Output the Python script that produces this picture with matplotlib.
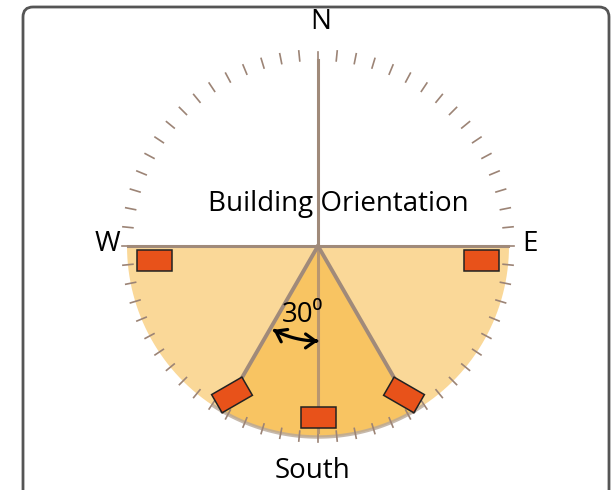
import numpy as np
import matplotlib
matplotlib.use("Agg")
import matplotlib.pyplot as plt
from matplotlib.patches import Polygon, FancyBboxPatch, FancyArrowPatch
from matplotlib.path import Path

plt.rcParams["font.family"] = ["Open Sans", "DejaVu Sans"]

# ---------- data ----------
compass_labels = ["N", "W", "E"]
compass_bearings = [0, 270, 90]
tick_bearings = list(np.arange(64) * 360 / 64)
half_fill = [90, 270]            # lower half (E -> S -> W)
wedge_half_angle = 30            # +/- around south
building_bearings = [180, 150, 210, 95, 265]
building_radius = [171, 172, 172, 164, 164]
building_rotation = [0, 30, -30, 0, 0]
angle_label = "30⁰"
title_text = "Building Orientation"
bottom_text = "South"

# ---------- geometry ----------
CX, CY, R = 318, 246, 191
LINE = "#a08a7a"
LIGHT = "#fad898"
DARK = "#f8c462"
RED = "#e8521a"


def pt(b, r):
    t = np.radians(b)
    return CX + r * np.sin(t), CY - r * np.cos(t)


def arc(b0, b1, r, n=100):
    bs = np.linspace(b0, b1, n)
    return np.array([pt(b, r) for b in bs])


fig = plt.figure(figsize=(6.12, 4.9), dpi=100)
ax = fig.add_axes([0, 0, 1, 1])
ax.set_xlim(0, 612)
ax.set_ylim(490, 0)
ax.axis("off")

# frame
ax.add_patch(FancyBboxPatch((23, 7), 586, 500, boxstyle="round,pad=0,rounding_size=10",
                            fc="white", ec="#555555", lw=2, zorder=0))

# half disc
pts = np.vstack([[pt(0, 0)], arc(half_fill[0], half_fill[1], R)])
ax.add_patch(Polygon(pts, closed=True, fc=LIGHT, ec="none", zorder=1))

# 30 deg wedge
pts = np.vstack([[pt(0, 0)], arc(180 - wedge_half_angle, 180 + wedge_half_angle, R)])
ax.add_patch(Polygon(pts, closed=True, fc=DARK, ec="none", zorder=2))
a = arc(180 - 33, 180 + 33, R)
ax.plot(a[:, 0], a[:, 1], color="#b8a898", lw=2.5, alpha=0.8, zorder=2.5)

# ticks
for b in tick_bearings:
    if b == 0:
        continue
    p0, p1 = pt(b, 186), pt(b, 196)
    ax.plot([p0[0], p1[0]], [p0[1], p1[1]], color="#9c8476", lw=1.2, zorder=3)
p0, p1 = pt(0, 186), pt(0, 194)
ax.plot([p0[0], p1[0]], [p0[1], p1[1]], color="#9c8476", lw=1.2, zorder=3)

# main lines
w, e = pt(270, R - 1), pt(90, R - 1)
ax.plot([w[0], e[0]], [w[1], e[1]], color=LINE, lw=2.2, zorder=4)
n = pt(0, 186)
ax.plot([CX, n[0]], [CY, n[1]], color=LINE, lw=2.2, zorder=4)
s = pt(180, 186)
ax.plot([CX, s[0]], [CY, s[1]], color="#b89670", lw=2.2, zorder=4)
for b in [180 - wedge_half_angle, 180 + wedge_half_angle]:
    p = pt(b, R)
    ax.plot([CX, p[0]], [CY, p[1]], color=LINE, lw=2.8, zorder=4)

# buildings
BW, BH = 35, 21
for b, r, rot in zip(building_bearings, building_radius, building_rotation):
    cx, cy = pt(b, r)
    t = np.radians(rot)
    corners = np.array([[-BW / 2, -BH / 2], [BW / 2, -BH / 2], [BW / 2, BH / 2], [-BW / 2, BH / 2]])
    rotm = np.array([[np.cos(t), -np.sin(t)], [np.sin(t), np.cos(t)]])
    c = corners @ rotm.T + [cx, cy]
    ax.add_patch(Polygon(c, closed=True, fc=RED, ec="#222222", lw=1.1, zorder=5))

# angle arrow
a = arc(180, 180 + 28, 95, 40)
ax.add_patch(FancyArrowPatch(path=Path(a), arrowstyle="<->,head_length=7,head_width=5",
                             color="black", lw=2.3, zorder=6))

# texts
fs = 20
for lab, b in zip(compass_labels, compass_bearings):
    if lab == "N":
        ax.text(CX + 3, 22, lab, ha="center", va="center", fontsize=fs, zorder=7)
    elif lab == "W":
        ax.text(107, 244, lab, ha="center", va="center", fontsize=fs, zorder=7)
    else:
        ax.text(530, 244, lab, ha="center", va="center", fontsize=fs, zorder=7)
ax.text(338, 204, title_text, ha="center", va="center", fontsize=fs, zorder=7)
ax.text(313, 471, bottom_text, ha="center", va="center", fontsize=fs, zorder=7)
ax.text(302, 315, angle_label, ha="center", va="center", fontsize=fs, zorder=7)

fig.savefig("out.png", dpi=100)
